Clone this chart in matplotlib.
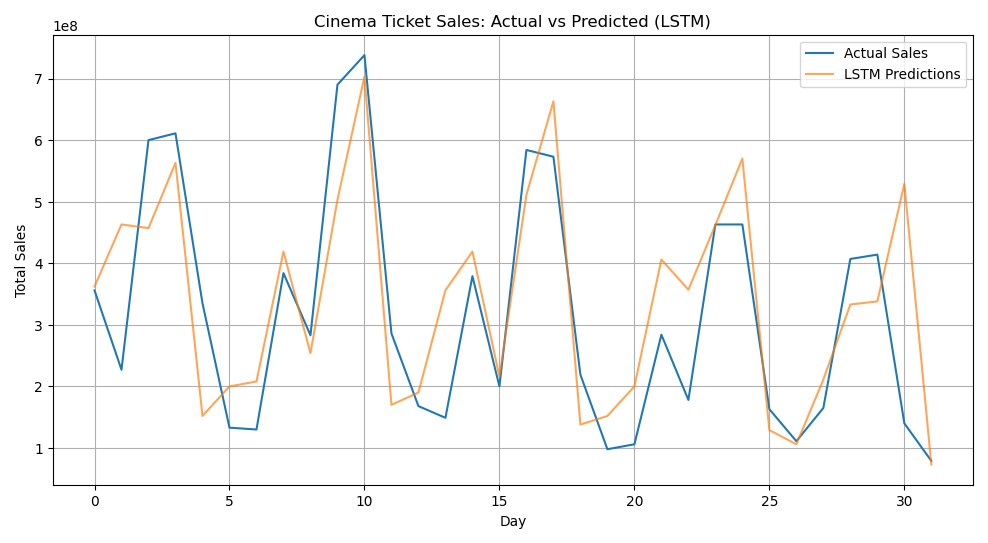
import matplotlib
matplotlib.use("Agg")
import matplotlib.pyplot as plt

days = list(range(32))
actual = [3.56,2.27,6.00,6.11,3.35,1.33,1.30,3.84,2.83,6.90,7.38,2.86,1.68,1.49,3.79,2.00,5.84,5.73,2.19,0.98,1.06,2.84,1.78,4.63,4.63,1.63,1.11,1.65,4.07,4.14,1.40,0.79]
lstm = [3.62,4.63,4.57,5.63,1.52,2.00,2.08,4.19,2.54,5.03,7.03,1.70,1.90,3.56,4.19,2.16,5.11,6.63,1.38,1.52,2.00,4.06,3.57,4.62,5.70,1.29,1.06,2.11,3.33,3.38,5.29,0.73]
actual = [v*1e8 for v in actual]
lstm = [v*1e8 for v in lstm]

fig, ax = plt.subplots(figsize=(10, 5.5), dpi=98.8)
ax.plot(days, actual, label="Actual Sales")
ax.plot(days, lstm, label="LSTM Predictions", alpha=0.7)
ax.set_title("Cinema Ticket Sales: Actual vs Predicted (LSTM)")
ax.set_xlabel("Day")
ax.set_ylabel("Total Sales")
ax.legend()
ax.grid(True)
fig.tight_layout()
fig.savefig("out.png")
